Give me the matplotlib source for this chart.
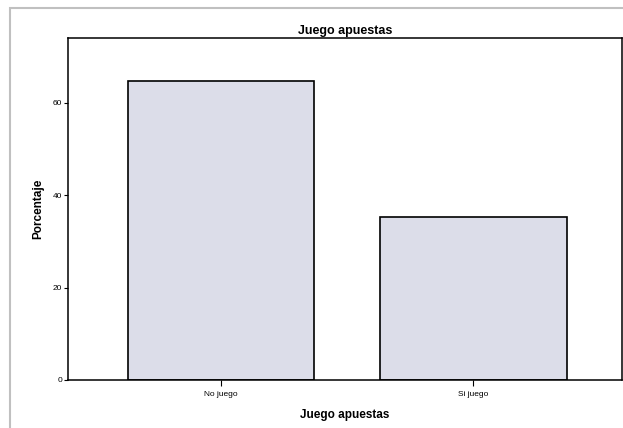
import matplotlib
matplotlib.use("Agg")
import matplotlib.pyplot as plt
from matplotlib.patches import Rectangle

categories = ["No juego", "Si juego"]
porcentaje = [64.8, 35.2]
yticks = [0, 20, 40, 60]

plt.rcParams['font.family'] = ['Liberation Sans', 'DejaVu Sans']

fig = plt.figure(figsize=(6.23, 4.28), dpi=100)
W, H = 623, 428
ax = fig.add_axes([68 / W, 1 - 380 / H, 554 / W, (380 - 38) / H])

x = range(len(categories))
ax.bar(x, porcentaje, width=0.74, color='#dcdde9', edgecolor='black', linewidth=1.2)

ax.set_xlim(-0.607, 1.59)
ax.set_ylim(0, 74)
ax.set_xticks(list(x))
ax.set_xticklabels(categories, fontsize=6)
ax.set_yticks(yticks)
ax.set_yticklabels([str(v) for v in yticks], fontsize=6)
ax.tick_params(axis='y', length=3, width=0.8, pad=1)
ax.tick_params(axis='x', length=4, width=0.8, pad=4)
for s in ax.spines.values():
    s.set_linewidth(1.1)

ax.set_title("Juego apuestas", fontsize=9, fontweight='bold', pad=3)
ax.set_xlabel("Juego apuestas", fontsize=8.5, fontweight='bold', labelpad=8)
ax.set_ylabel("Porcentaje", fontsize=8.5, fontweight='bold', labelpad=6)

# scanned page frame
fig.add_artist(Rectangle((10 / W, -0.05), 1.1, 1 - 8 / H + 0.05,
                         transform=fig.transFigure, fill=False,
                         edgecolor='#c0c0c0', linewidth=1.5))

fig.savefig("out.png", dpi=100)
